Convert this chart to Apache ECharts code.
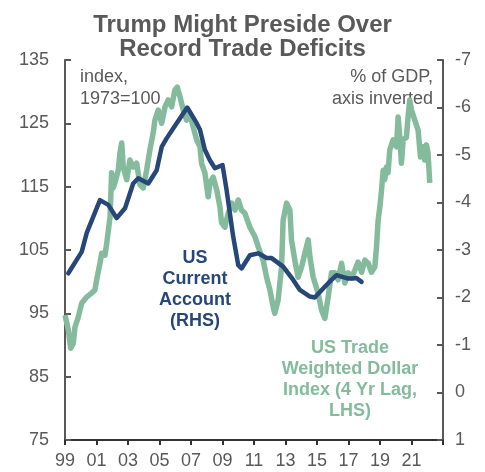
<!DOCTYPE html>
<html>
<head>
<meta charset="utf-8">
<script src="https://cdn.jsdelivr.net/npm/echarts@6/dist/echarts.min.js"></script>
<style>
  html, body { margin: 0; padding: 0; background: #fff; }
  #chart { width: 485px; height: 472px; }
</style>
</head>
<body>
<div id="chart"></div>
<script>
// US trade weighted dollar index, 4 yr lag (LHS)
const dollarDates = [
  1999.00, 1999.21, 1999.36, 1999.53, 1999.63, 1999.84, 2000.06, 2000.38, 2000.69, 2000.90,
  2001.01, 2001.22, 2001.33, 2001.54, 2001.65, 2001.86, 2001.96, 2002.06, 2002.17, 2002.38,
  2002.49, 2002.60, 2002.70, 2002.92, 2003.12, 2003.33, 2003.55, 2003.76, 2003.97, 2004.18,
  2004.39, 2004.60, 2004.71, 2004.92, 2005.14, 2005.35, 2005.55, 2005.77, 2005.98, 2006.13,
  2006.30, 2006.51, 2006.72, 2006.93, 2007.14, 2007.36, 2007.57, 2007.67, 2007.88, 2008.09,
  2008.20, 2008.41, 2008.63, 2008.84, 2008.94, 2009.15, 2009.36, 2009.58, 2009.79, 2010.00,
  2010.21, 2010.42, 2010.74, 2011.06, 2011.27, 2011.58, 2011.80, 2012.01, 2012.22, 2012.32,
  2012.53, 2012.75, 2012.85, 2013.07, 2013.28, 2013.38, 2013.59, 2013.80, 2014.02, 2014.23,
  2014.44, 2014.55, 2014.76, 2015.07, 2015.29, 2015.50, 2015.71, 2015.92, 2016.13, 2016.34,
  2016.56, 2016.77, 2016.98, 2017.19, 2017.40, 2017.61, 2017.83, 2018.04, 2018.25, 2018.46,
  2018.67, 2018.78, 2018.88, 2018.99, 2019.10, 2019.20, 2019.30, 2019.41, 2019.51, 2019.62,
  2019.83, 2020.05, 2020.15, 2020.26, 2020.36, 2020.47, 2020.68, 2020.78, 2020.89, 2021.00,
  2021.21, 2021.42, 2021.57, 2021.74, 2021.84, 2021.95, 2022.05, 2022.16
];
const dollarIndex = [
  94.7, 92.4, 89.5, 90.3, 92.8, 94.4, 96.6, 97.6, 98.2, 98.7,
  100.3, 102.9, 104.5, 104.2, 106.1, 110.2, 117.2, 114.8, 115.6, 117.6,
  120.3, 121.9, 118.1, 116.1, 119.2, 118.1, 118.7, 115.3, 114.8, 117.6,
  120.8, 123.5, 125.5, 127.1, 125.0, 127.6, 128.7, 127.6, 130.3, 130.7,
  129.2, 127.1, 125.5, 126.6, 124.4, 122.4, 121.3, 118.7, 117.2, 113.4,
  115.6, 116.5, 114.5, 111.8, 109.3, 108.6, 110.8, 112.4, 111.3, 112.9,
  111.3, 110.8, 108.6, 107.1, 105.5, 103.4, 100.7, 98.7, 96.0, 95.0,
  97.1, 102.3, 109.7, 112.4, 111.3, 106.6, 103.4, 100.7, 102.3, 104.5,
  106.6, 103.9, 100.7, 98.2, 95.5, 94.2, 97.6, 101.4, 101.4, 100.3,
  102.9, 99.8, 101.4, 100.6, 101.8, 103.1, 101.5, 103.4, 102.9, 101.5,
  102.3, 105.5, 109.7, 111.8, 114.5, 117.6, 116.1, 118.1, 117.2, 120.8,
  122.4, 121.3, 126.0, 122.8, 118.7, 122.4, 122.8, 126.0, 128.7, 127.1,
  125.5, 123.9, 119.7, 121.3, 119.2, 121.6, 120.3, 115.6
];

// US current account, % of GDP (RHS, inverted)
const caDates = [
  1999.21, 2000.06, 2000.38, 2001.22, 2001.75, 2002.28, 2002.81, 2003.33, 2003.65, 2004.29,
  2004.82, 2005.14, 2005.45, 2006.09, 2006.76, 2007.36, 2007.57, 2007.88, 2008.20, 2008.52,
  2009.00, 2009.26, 2009.68, 2010.00, 2010.21, 2010.74, 2011.27, 2011.80, 2012.12, 2012.85,
  2013.49, 2013.91, 2014.55, 2014.86, 2015.39, 2015.92, 2016.24, 2016.66, 2016.98, 2017.29,
  2017.50, 2017.83
];
const caValues = [
  -2.51, -2.96, -3.36, -4.05, -3.95, -3.67, -3.88, -4.40, -4.51, -4.40,
  -4.68, -5.17, -5.35, -5.67, -6.00, -5.67, -5.53, -5.11, -4.89, -4.72,
  -4.79, -4.26, -3.28, -2.68, -2.61, -2.89, -2.93, -2.83, -2.83, -2.65,
  -2.37, -2.16, -2.02, -2.00, -2.19, -2.37, -2.47, -2.43, -2.40, -2.40,
  -2.41, -2.33
];

const GREEN = '#84bb9c';
const BLUE = '#264778';
const GREY = '#595959';
const FONT = '"Liberation Sans", Arial, sans-serif';

const chart = echarts.init(document.getElementById('chart'));

chart.setOption({
  animation: false,
  title: {
    text: 'Trump Might Preside Over\nRecord Trade Deficits',
    left: 'center',
    top: 8,
    textStyle: { fontSize: 24, fontWeight: 'bold', color: GREY, lineHeight: 24, fontFamily: FONT }
  },
  grid: { left: 65, right: 42, top: 60, bottom: 32 },
  xAxis: {
    type: 'value',
    min: 1999,
    max: 2023,
    interval: 2,
    splitLine: { show: false },
    axisLine: { onZero: false, lineStyle: { color: '#333', width: 2 } },
    axisTick: { length: 5, lineStyle: { color: '#333', width: 2 } },
    axisLabel: {
      fontSize: 18, color: GREY, margin: 12, fontFamily: FONT,
      formatter: (v) => v >= 2023 ? '' : String(v % 100).padStart(2, '0')
    }
  },
  yAxis: [
    {
      type: 'value',
      min: 75,
      max: 135,
      interval: 10,
      splitLine: { show: false },
      axisLine: { show: true, onZero: false, lineStyle: { color: GREY, width: 2 } },
      axisTick: { show: true, inside: true, length: 6, lineStyle: { color: GREY, width: 2 } },
      axisLabel: { fontSize: 18, color: GREY, margin: 16, fontFamily: FONT }
    },
    {
      type: 'value',
      min: -7,
      max: 1,
      interval: 1,
      inverse: true,
      position: 'right',
      splitLine: { show: false },
      axisLine: { show: true, onZero: false, lineStyle: { color: GREY, width: 2 } },
      axisTick: { show: true, inside: true, length: 6, lineStyle: { color: GREY, width: 2 } },
      axisLabel: { fontSize: 18, color: GREY, margin: 12, fontFamily: FONT }
    }
  ],
  series: [
    {
      name: 'US Trade Weighted Dollar Index',
      type: 'line',
      yAxisIndex: 0,
      showSymbol: false,
      data: dollarDates.map((d, i) => [d, dollarIndex[i]]),
      lineStyle: { color: GREEN, width: 5.5, join: 'round' },
      z: 2
    },
    {
      name: 'US Current Account',
      type: 'line',
      yAxisIndex: 1,
      showSymbol: false,
      data: caDates.map((d, i) => [d, caValues[i]]),
      lineStyle: { color: BLUE, width: 4.5, cap: 'round', join: 'round' },
      z: 3
    }
  ],
  graphic: [
    {
      type: 'text', x: 80, y: 66,
      style: { text: 'index,\n1973=100', font: '18px ' + FONT, fill: GREY, lineHeight: 22, align: 'left', verticalAlign: 'top' }
    },
    {
      type: 'text', x: 433, y: 66,
      style: { text: '% of GDP,\naxis inverted', font: '18px ' + FONT, fill: GREY, lineHeight: 22, align: 'right', verticalAlign: 'top' }
    },
    {
      type: 'text', x: 195, y: 248,
      style: { text: 'US\nCurrent\nAccount\n(RHS)', font: 'bold 18px ' + FONT, fill: BLUE, lineHeight: 21, align: 'center', verticalAlign: 'top' }
    },
    {
      type: 'text', x: 350, y: 338,
      style: { text: 'US Trade\nWeighted Dollar\nIndex (4 Yr Lag,\nLHS)', font: 'bold 18px ' + FONT, fill: GREEN, lineHeight: 21, align: 'center', verticalAlign: 'top' }
    }
  ]
});

window.addEventListener('resize', () => chart.resize());
</script>
</body>
</html>
